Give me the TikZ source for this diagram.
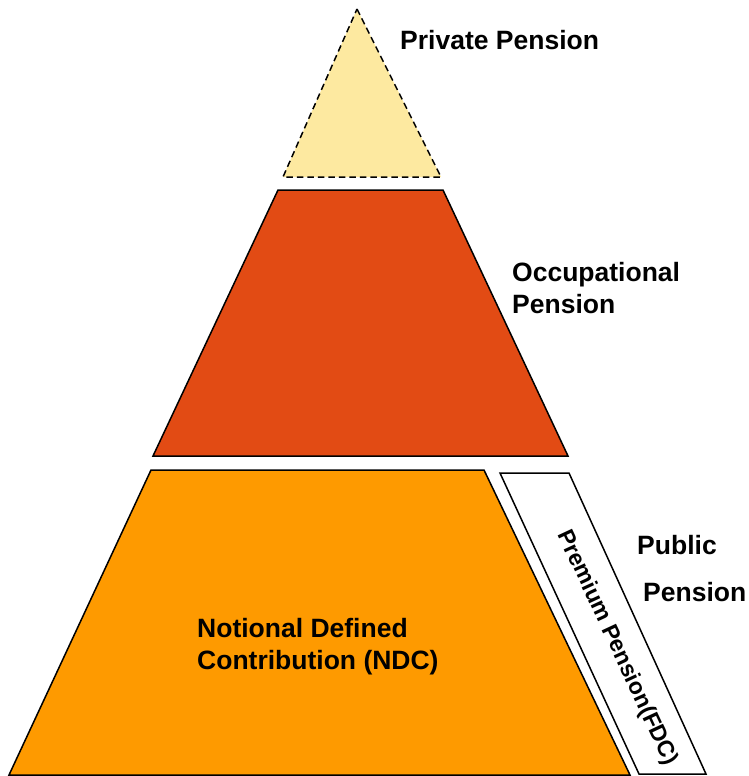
\documentclass[tikz,border=0pt]{standalone}
\usepackage{fontspec}
\setmainfont{Liberation Sans}
\usepackage{xcolor}
\usetikzlibrary{positioning}
\definecolor{privfill}{HTML}{FDE9A0}
\definecolor{occfill}{HTML}{E24B14}
\definecolor{ndcfill}{HTML}{FE9A00}
\tikzset{
		tier/.style={draw=black, line width=1.5pt, line join=miter},
		lbl/.style={inner sep=0pt, font=\fontsize{26.5}{32}\selectfont\bfseries, align=left}
	}
\newcommand{\ldraw}{black}

\begin{document}
\begin{tikzpicture}[x=1pt, y=-1pt]
		\useasboundingbox (0,0) rectangle (749,776);
		% top tier, dashed
		\draw[tier, dash pattern=on 6.5pt off 4pt, fill=privfill] (357,9) -- (441,177) -- (283,177) -- cycle;
		% middle tier
		\draw[tier, fill=occfill] (278,190) -- (443,190) -- (568,456) -- (153,456) -- cycle;
		% bottom tier and the premium strip beside it
		\draw[tier, fill=ndcfill] (151,470) -- (484,470) -- (630,775) -- (9,775) -- cycle;
		\draw[\ldraw, line width=1.5pt] (500,473) -- (569,473) -- (706,774) -- (639,774) -- cycle;
		\node[lbl, font=\fontsize{23}{27}\selectfont\bfseries, rotate=-65] (fdc) at (617,648) {Premium Pension(FDC)};
		% labels
		\node[lbl, anchor=west] (priv) at (400,40) {Private Pension};
		\node[lbl, anchor=west] (occ) at (512,288) {Occupational\\Pension};
		\node[lbl, anchor=west] (pub) at (637,545) {Public};
		\node[lbl, anchor=west] (pubp) at (643,592) {Pension};
		\node[lbl, anchor=west] (ndc) at (197,647) {Notional Defined\\Contribution (NDC)};
	\end{tikzpicture}
\end{document}
